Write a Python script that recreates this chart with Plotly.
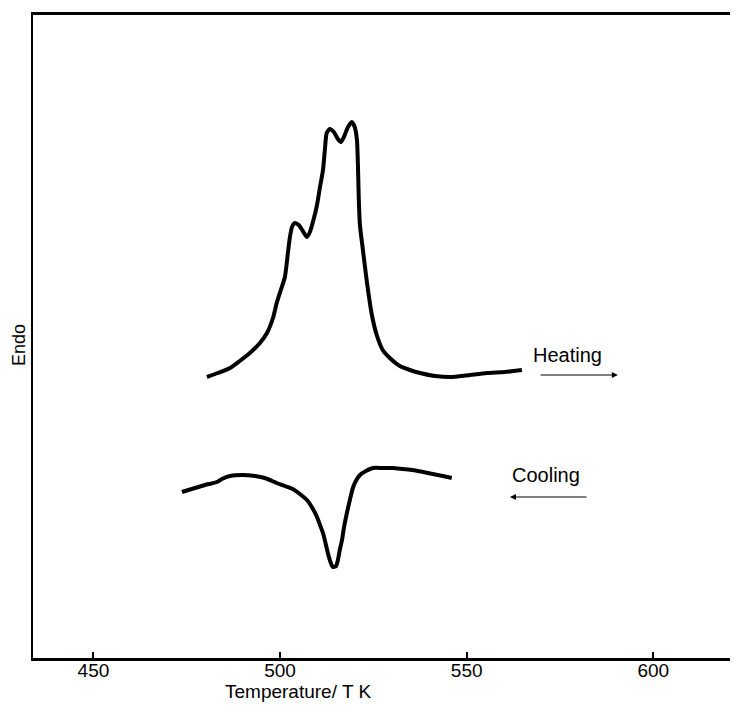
import plotly.graph_objects as go

# Heating DSC trace (temperature K, endo signal arbitrary units)
heat_T = [480.4, 483.3, 486.6, 489.2, 491.9, 494.6, 496.5, 498.1, 499.1, 500.2, 501.3, 502.1,
          502.6, 503.2, 504.0, 505.0, 506.1, 507.2, 508.0, 508.8, 509.9, 510.7, 511.5, 512.0,
          512.5, 513.3, 514.4, 515.5, 516.3, 517.1, 518.2, 519.2, 520.0, 520.6, 520.9, 521.1,
          521.4, 522.2, 523.3, 524.6, 525.9, 527.5, 529.4, 532.1, 534.8, 537.5, 541.5, 546.3,
          550.9, 555.4, 560.2, 564.8]
heat_S = [281, 285, 290, 297, 305, 315, 325, 340, 355, 368, 381, 405,
          420, 431, 435, 433, 427, 421, 426, 436, 453, 471, 488, 508,
          525, 529, 526, 519, 516, 521, 531, 536, 531, 518, 488, 458,
          433, 408, 375, 343, 323, 308, 300, 292, 288, 285, 282, 281,
          283, 285, 286, 288]

# Cooling DSC trace
cool_T = [473.7, 477.2, 479.9, 483.1, 484.4, 486.6, 490.0, 493.3, 495.9, 499.1, 501.3, 503.4,
          505.3, 507.2, 508.5, 509.9, 510.7, 511.5, 512.3, 512.8, 513.6, 514.1, 515.0, 515.5,
          516.0, 516.6, 517.1, 517.9, 518.7, 519.5, 520.3, 521.4, 523.0, 524.9, 527.5, 530.2,
          532.9, 535.6, 538.3, 540.9, 543.6, 546.0]
cool_S = [166, 170, 173, 176, 179, 182, 183, 182, 180, 175, 172, 169,
          164, 158, 151, 141, 133, 125, 113, 105, 95, 91, 92, 98,
          108, 118, 130, 145, 158, 170, 177, 183, 187, 190, 190, 190,
          189, 188, 186, 184, 182, 180]

tick_vals = [450, 500, 550, 600]
tick_text = ["450", "500", "550", "600"]

FONT = "Liberation Sans, Arial, Helvetica, sans-serif"

# page body has an 8px margin, so the figure is shifted by 8px; compensate
OFF = 8
L, R, T, B = 33, 738, 15, 658          # plot area in screen pixels
W, H = 738 - OFF, 720 - OFF

fig = go.Figure()
line_style = dict(color="black", width=4, shape="spline", smoothing=0.6)
fig.add_trace(go.Scatter(x=heat_T, y=heat_S, mode="lines", line=line_style,
                         showlegend=False, hoverinfo="skip"))
fig.add_trace(go.Scatter(x=cool_T, y=cool_S, mode="lines", line=line_style,
                         showlegend=False, hoverinfo="skip"))

# Labels with direction arrows
fig.add_annotation(x=577.0, y=303, text="Heating", showarrow=False,
                   font=dict(family=FONT, size=20, color="black"))
fig.add_annotation(x=590.5, y=283, ax=569.4, ay=283, axref="x", ayref="y",
                   xref="x", yref="y", text="", showarrow=True,
                   arrowhead=2, arrowsize=1, arrowwidth=1.2, arrowcolor="black")
fig.add_annotation(x=571.2, y=183, text="Cooling", showarrow=False,
                   font=dict(family=FONT, size=20, color="black"))
fig.add_annotation(x=561.6, y=161, ax=582.5, ay=161, axref="x", ayref="y",
                   xref="x", yref="y", text="", showarrow=True,
                   arrowhead=2, arrowsize=1, arrowwidth=1.2, arrowcolor="black")

pw, ph = R - L, B - T
# Axis titles (positions in paper coords derived from screen pixels)
fig.add_annotation(x=(298 - L) / pw, y=-(691 - B) / ph, xref="paper", yref="paper",
                   text="Temperature/ T K", showarrow=False, yanchor="middle",
                   font=dict(family=FONT, size=19, color="black"))
fig.add_annotation(x=-(L - 19) / pw, y=(B - 345) / ph, xref="paper", yref="paper",
                   text="Endo", textangle=-90, showarrow=False, xanchor="center",
                   font=dict(family=FONT, size=18, color="black"))

# short stub of the right-hand frame edge at the top
fig.add_shape(type="line", xref="paper", yref="paper", x0=0.998, x1=0.998,
              y0=1, y1=1 - 22 / ph, line=dict(color="black", width=1.5))

fig.update_layout(
    width=W, height=H,
    margin=dict(l=L - OFF, r=0, t=T - OFF, b=H - (B - OFF)),
    paper_bgcolor="white", plot_bgcolor="white",
    xaxis=dict(range=[433.8, 622.7], tickvals=tick_vals, ticktext=tick_text,
               ticks="inside", ticklen=6, tickwidth=2, tickcolor="black",
               ticklabelstandoff=-7,
               showline=True, linewidth=2.5, linecolor="black", mirror=True,
               showgrid=False, zeroline=False,
               tickfont=dict(family=FONT, size=19, color="black")),
    yaxis=dict(range=[0, 643], showticklabels=False, ticks="",
               showline=True, linewidth=2, linecolor="black",
               showgrid=False, zeroline=False),
)

fig.write_html("out.html")
